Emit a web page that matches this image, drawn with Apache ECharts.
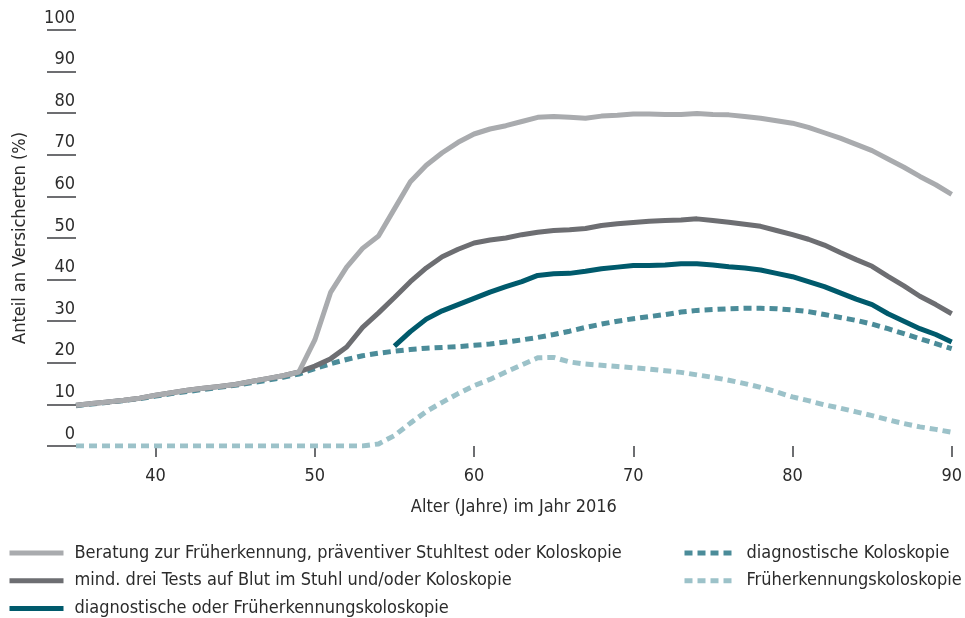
<!DOCTYPE html>
<html>
<head>
<meta charset="utf-8">
<title>Anteil an Versicherten nach Alter</title>
<script src="https://cdn.jsdelivr.net/npm/echarts@6/dist/echarts.min.js"></script>
<style>
  html, body { margin: 0; padding: 0; background: #fff; }
  #chart { width: 965px; height: 618px; }
</style>
</head>
<body>
<div id="chart"></div>
<script>
  // Alter 35..90
  var ages = [];
  for (var a = 35; a <= 90; a++) ages.push(String(a));

  var yTicks = [0, 10, 20, 30, 40, 50, 60, 70, 80, 90, 100];
  var xTickLabels = ['40', '50', '60', '70', '80', '90'];

  var beratung = [9.8, 10.2, 10.6, 11.0, 11.5, 12.2, 12.8, 13.4, 13.9, 14.3,
    14.8, 15.5, 16.2, 16.9, 17.8, 25.5, 37, 43, 47.5, 50.5,
    57, 63.5, 67.5, 70.5, 73, 75, 76.2, 77, 78, 79,
    79.2, 79, 78.8, 79.3, 79.5, 79.8, 79.8, 79.7, 79.7, 79.9,
    79.7, 79.6, 79.2, 78.8, 78.2, 77.6, 76.6, 75.3, 74, 72.5,
    71, 69, 67, 64.8, 62.8, 60.5];

  var dreiTests = [9.8, 10.2, 10.6, 11.0, 11.5, 12.2, 12.8, 13.4, 13.9, 14.3,
    14.8, 15.5, 16.2, 16.9, 17.8, 19.2, 21, 23.8, 28.5, 32,
    35.7, 39.5, 42.8, 45.5, 47.3, 48.8, 49.5, 50, 50.8, 51.4,
    51.8, 52, 52.3, 53, 53.4, 53.7, 54, 54.2, 54.3, 54.6,
    54.2, 53.8, 53.3, 52.8, 51.8, 50.8, 49.7, 48.3, 46.5, 44.8,
    43.2, 40.8, 38.5, 36, 34, 31.8];

  var diagOderFrueh = [null, null, null, null, null, null, null, null, null, null,
    null, null, null, null, null, null, null, null, null, null,
    24, 27.5, 30.5, 32.5, 34, 35.5, 37, 38.3, 39.5, 41,
    41.4, 41.5, 42, 42.6, 43, 43.4, 43.4, 43.5, 43.8, 43.8,
    43.5, 43.1, 42.8, 42.3, 41.5, 40.7, 39.5, 38.3, 36.8, 35.3,
    34, 31.8, 30, 28.2, 26.8, 25];

  var diagKolo = [9.7, 10.1, 10.5, 10.9, 11.4, 12, 12.6, 13.1, 13.6, 14.1,
    14.6, 15.2, 15.8, 16.5, 17.3, 18.6, 19.8, 20.8, 21.7, 22.3,
    22.8, 23.2, 23.5, 23.7, 23.9, 24.2, 24.5, 25, 25.5, 26.1,
    26.8, 27.6, 28.5, 29.3, 30, 30.6, 31.1, 31.6, 32.2, 32.6,
    32.8, 33, 33.1, 33.1, 33, 32.7, 32.3, 31.6, 30.9, 30.2,
    29.3, 28.2, 27, 25.8, 24.6, 23.4];

  var fruehKolo = [0, 0, 0, 0, 0, 0, 0, 0, 0, 0,
    0, 0, 0, 0, 0, 0, 0, 0, 0, 0.5,
    2.5, 5.5, 8.3, 10.5, 12.6, 14.5, 16, 17.8, 19.5, 21.2,
    21.3, 20.2, 19.7, 19.4, 19.1, 18.8, 18.5, 18.1, 17.7, 17.1,
    16.5, 15.8, 15, 14.1, 13, 11.8, 10.9, 9.9, 9.1, 8.2,
    7.3, 6.3, 5.4, 4.6, 4, 3.3];

  var names = [
    'Beratung zur Früherkennung, präventiver Stuhltest oder Koloskopie',
    'mind. drei Tests auf Blut im Stuhl und/oder Koloskopie',
    'diagnostische oder Früherkennungskoloskopie',
    'diagnostische Koloskopie',
    'Früherkennungskoloskopie'
  ];

  var fontFam = '"Liberation Sans Narrow", "DejaVu Sans Condensed", "Noto Sans", sans-serif';
  var txt = '#2b2b2b';

  function lineSeries(name, data, color, dashed) {
    return {
      name: name,
      type: 'line',
      data: data,
      symbol: 'none',
      connectNulls: false,
      lineStyle: { color: color, width: 5, type: dashed ? [8, 5] : 'solid', cap: 'butt' },
      itemStyle: { color: color },
      emphasis: { disabled: true }
    };
  }

  function legendBox(left, iconW, gap, items) {
    return {
      orient: 'vertical',
      left: left,
      top: 544,
      padding: 0,
      itemWidth: iconW,
      itemHeight: 14,
      itemGap: 9.7,
      itemStyle: { opacity: 0 },
      lineStyle: { width: 5 },
      textStyle: { fontSize: 18, color: txt, fontFamily: fontFam, padding: [0, 0, 0, gap], lineHeight: 18 },
      data: items
    };
  }

  var chart = echarts.init(document.getElementById('chart'));
  var option = {
    animation: false,
    textStyle: { fontFamily: fontFam },
    grid: { left: 76, right: 13, top: 30, bottom: 172 },
    legend: [
      legendBox(7, 54, 6, [names[0], names[1], names[2]]),
      legendBox(682, 50, 7, [names[3], names[4]])
    ],
    xAxis: {
      type: 'category',
      data: ages,
      boundaryGap: false,
      name: 'Alter (Jahre) im Jahr 2016',
      nameLocation: 'middle',
      nameGap: 52,
      nameTextStyle: { fontSize: 18, color: txt, fontFamily: fontFam },
      axisLine: { show: false },
      axisTick: {
        show: true, length: 11,
        interval: function (i, v) { return xTickLabels.indexOf(v) >= 0; },
        lineStyle: { color: '#6d6e71', width: 2 }
      },
      axisLabel: {
        interval: function (i, v) { return xTickLabels.indexOf(v) >= 0; },
        margin: 21, fontSize: 18, color: txt, fontFamily: fontFam
      },
      splitLine: { show: false }
    },
    yAxis: {
      type: 'value',
      min: yTicks[0],
      max: yTicks[yTicks.length - 1],
      interval: 10,
      name: 'Anteil an Versicherten (%)',
      nameLocation: 'middle',
      nameGap: 47,
      nameTextStyle: { fontSize: 18, color: txt, fontFamily: fontFam },
      axisLine: { show: false },
      axisTick: { show: true, length: 29, lineStyle: { color: '#6d6e71', width: 2 } },
      axisLabel: {
        margin: 1, fontSize: 18, color: txt, fontFamily: fontFam,
        verticalAlign: 'bottom', padding: [0, 0, 3, 0]
      },
      splitLine: { show: false }
    },
    series: [
      lineSeries(names[4], fruehKolo, '#9cc2c9', true),
      lineSeries(names[3], diagKolo, '#4b8c99', true),
      lineSeries(names[2], diagOderFrueh, '#005a6c', false),
      lineSeries(names[1], dreiTests, '#6d6e72', false),
      lineSeries(names[0], beratung, '#a9abae', false)
    ]
  };
  chart.setOption(option);
</script>
</body>
</html>
